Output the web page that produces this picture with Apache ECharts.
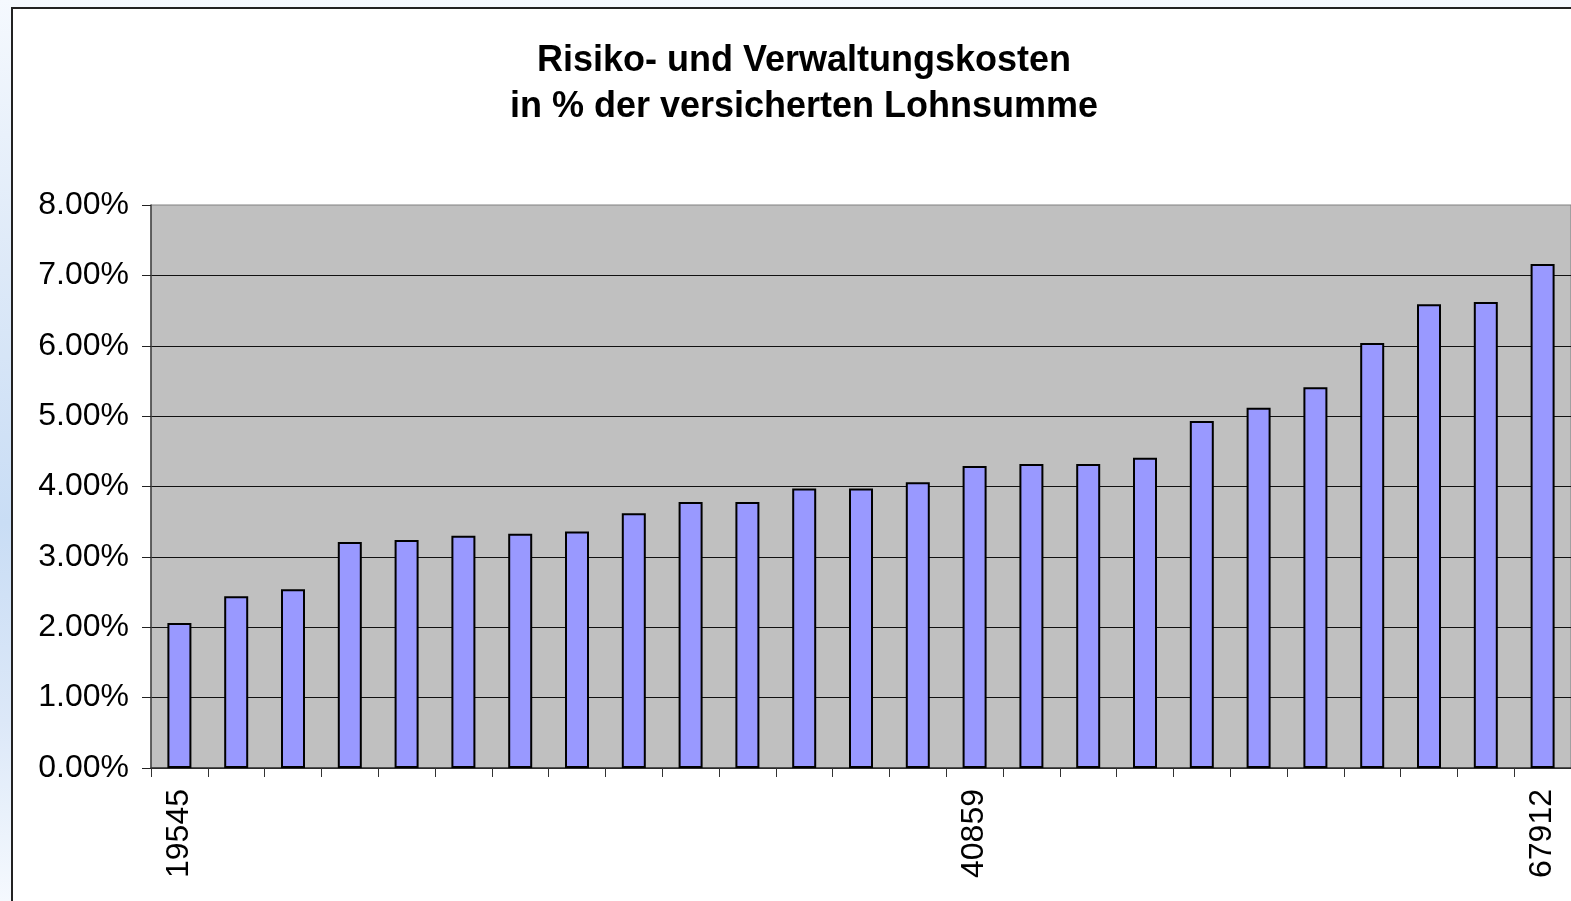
<!DOCTYPE html>
<html>
<head>
<meta charset="utf-8">
<script src="https://cdn.jsdelivr.net/npm/echarts@6/dist/echarts.min.js"></script>
<style>
  html, body { margin: 0; padding: 0; width: 1571px; height: 901px; overflow: hidden; }
  body { background: linear-gradient(to bottom, #F5F9FE 0%, #DDE9F8 30%, #C9DDF5 58%, #DCE8F8 80%, #F5F9FE 100%); position: relative; }
  #frame { position: absolute; left: 11px; top: 7px; width: 1620px; height: 960px; background: #fff; border-left: 2px solid #222; border-top: 2px solid #222; }
  #chart { position: absolute; left: 0; top: 0; width: 1571px; height: 901px; }
</style>
</head>
<body>
<div id="frame"></div>
<div id="chart"></div>
<script>
// Category labels (only three are legible in the reference; others left blank)
const categories = [
  '19545', '', '', '', '', '', '', '', '', '', '', '', '', '',
  '40859', '', '', '', '', '', '', '', '', '', '67912'
];
const shownLabelIndices = [0, 14, 24];
// Risiko- und Verwaltungskosten, in % der versicherten Lohnsumme
const costPercent = [
  2.06, 2.44, 2.54, 3.21, 3.24, 3.30, 3.33, 3.36, 3.62, 3.78,
  3.78, 3.97, 3.97, 4.06, 4.29, 4.32, 4.32, 4.41, 4.93, 5.12,
  5.41, 6.04, 6.59, 6.62, 7.16
];
const titleText = 'Risiko- und Verwaltungskosten\nin % der versicherten Lohnsumme';

const FONT = '"Liberation Sans", Arial, Helvetica, sans-serif';
const chart = echarts.init(document.getElementById('chart'), null, { renderer: 'canvas' });
chart.setOption({
  backgroundColor: 'transparent',
  animation: false,
  graphic: [{
    type: 'text',
    x: 804,
    y: 38,
    z: 10,
    style: {
      text: titleText,
      fill: '#000',
      font: 'bold 36px ' + FONT,
      align: 'center',
      verticalAlign: 'top',
      lineHeight: 46
    }
  }],
  grid: {
    left: 151,
    top: 205,
    right: -6,
    bottom: 133,
    show: true,
    backgroundColor: '#C0C0C0',
    borderColor: '#808080',
    borderWidth: 1,
    containLabel: false
  },
  xAxis: {
    type: 'category',
    data: categories,
    boundaryGap: true,
    axisLine: { show: true, lineStyle: { color: '#333', width: 1.5 } },
    axisTick: { show: true, interval: 0, length: 9, alignWithLabel: false, lineStyle: { color: '#333', width: 1 } },
    axisLabel: {
      interval: function (idx) { return shownLabelIndices.indexOf(idx) >= 0; },
      rotate: 90,
      margin: 21,
      color: '#000',
      fontFamily: FONT,
      fontSize: 32
    },
    splitLine: { show: false }
  },
  yAxis: {
    type: 'value',
    min: 0,
    max: 8,
    interval: 1,
    axisLine: { show: true, lineStyle: { color: '#444', width: 1.5 } },
    axisTick: { show: true, inside: false, length: 9, lineStyle: { color: '#222', width: 1 } },
    axisLabel: {
      margin: 22,
      color: '#000',
      fontFamily: FONT,
      fontSize: 32,
      formatter: function (v) { return v.toFixed(2) + '%'; }
    },
    splitLine: { show: true, showMaxLine: false, lineStyle: { color: '#111', width: 1 } }
  },
  series: [{
    type: 'bar',
    data: costPercent,
    barWidth: 24,
    itemStyle: { color: '#9999FF', borderColor: '#000', borderWidth: 2 }
  }]
});
</script>
</body>
</html>
